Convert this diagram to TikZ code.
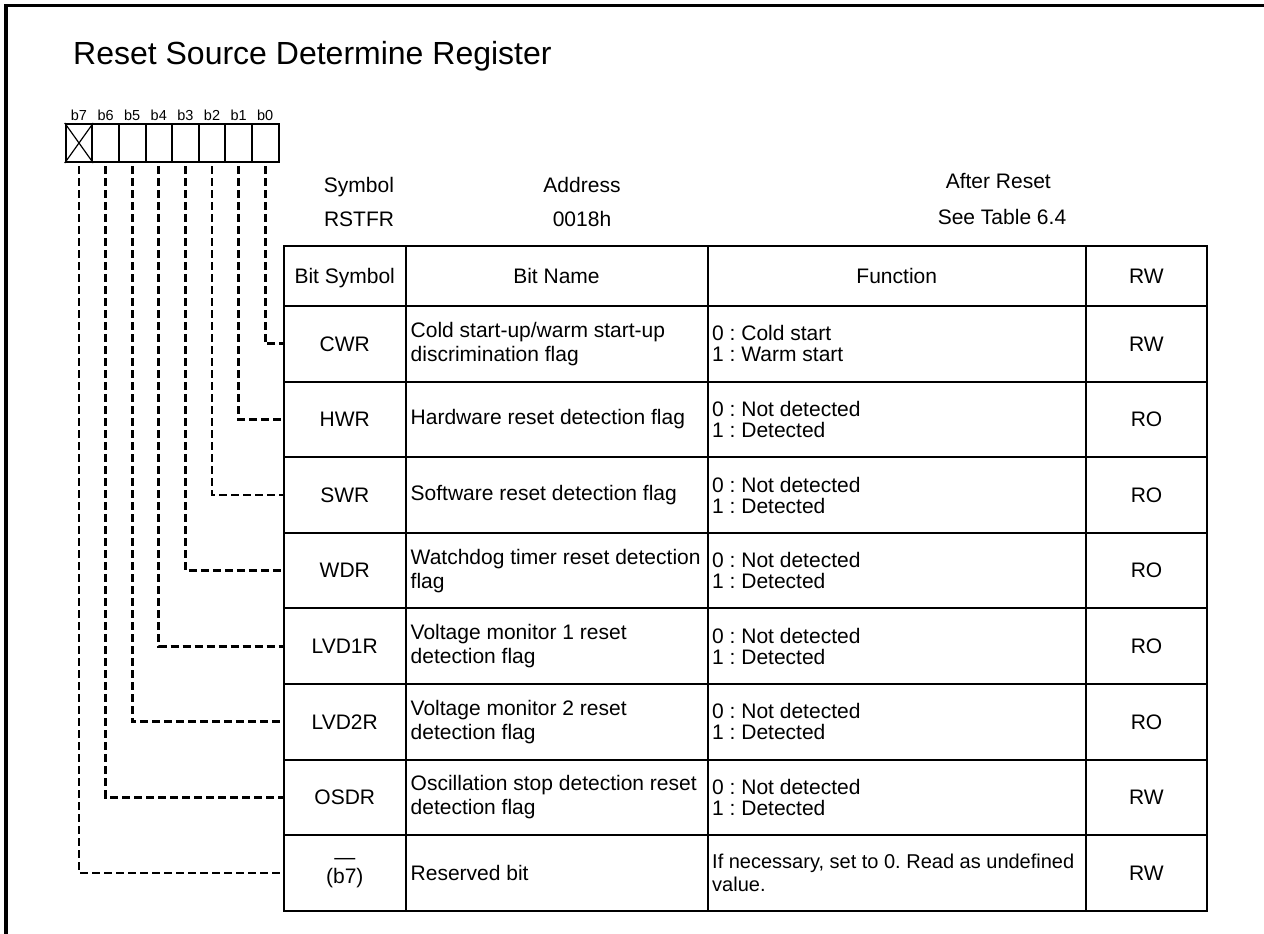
\documentclass[tikz,border=0pt]{standalone}
\usepackage{fontspec}
\setmainfont{Liberation Sans}
\frenchspacing
\newcommand\tblfont{\fontsize{21}{24}\selectfont}
\newcommand\fnfont{\fontsize{21}{21}\selectfont}
\newcommand\fnwfont{\fontsize{20}{22.4}\selectfont}
\newcommand\symfont{\fontsize{21}{19}\selectfont}
\begin{document}
\begin{tikzpicture}[x=1pt,y=-1pt,
  frame/.style={line width=3.2pt},
  reg/.style={draw, line width=2pt, minimum width=26.6pt, minimum height=38pt, inner sep=0pt},
  blabel/.style={font=\fontsize{14.5}{16}\selectfont, anchor=base, inner sep=0pt},
  hdr/.style={anchor=base, inner sep=0pt, font=\tblfont},
  cell/.style={draw, line width=2pt, inner sep=0pt, minimum height=75.6pt, font=\tblfont},
  colA/.style={cell, minimum width=121.5pt, align=center, font=\symfont},
  colB/.style={cell, minimum width=302pt},
  colC/.style={cell, minimum width=378.5pt},
  colD/.style={cell, minimum width=121pt},
  headcell/.style={minimum height=60.3pt, text depth=0pt, font=\tblfont},
  ltext/.style={anchor=west, align=left, inner sep=0pt, font=\tblfont},
  ftext/.style={anchor=west, align=left, inner sep=0pt, font=\fnfont},
  conn/.style={line width=2.8pt, dash pattern=on 8pt off 4pt, dash phase=9pt},
  cross/.style={line width=1.2pt}
]
\useasboundingbox (0,0) rectangle (1264,934);
% frame
\draw[frame] (6,934) -- (6,5.5) -- (1264,5.5);
% title
\node[anchor=base west, inner sep=0pt, font=\fontsize{32}{36}\selectfont] (title) at (73,64.5) {Reset Source Determine Register};

% register cells
\node[reg] (b7) at (79.0,143) {};
\node[reg] (b6) at (105.6,143) {};
\node[reg] (b5) at (132.2,143) {};
\node[reg] (b4) at (158.8,143) {};
\node[reg] (b3) at (185.4,143) {};
\node[reg] (b2) at (212.0,143) {};
\node[reg] (b1) at (238.6,143) {};
\node[reg] (b0) at (265.2,143) {};
\draw[cross] (b7.north west) -- (b7.south east) (b7.north east) -- (b7.south west);
\node[blabel] (l7) at (79.0,120.5) {b7};
\node[blabel] (l6) at (105.6,120.5) {b6};
\node[blabel] (l5) at (132.2,120.5) {b5};
\node[blabel] (l4) at (158.8,120.5) {b4};
\node[blabel] (l3) at (185.4,120.5) {b3};
\node[blabel] (l2) at (212.0,120.5) {b2};
\node[blabel] (l1) at (238.6,120.5) {b1};
\node[blabel] (l0) at (265.2,120.5) {b0};

% header info
\node[hdr] (symt) at (359,192.3) {Symbol};
\node[hdr] (symv) at (359,226.7) {RSTFR};
\node[hdr] (adrt) at (582,192.3) {Address};
\node[hdr] (adrv) at (582,226.7) {0018h};
\node[hdr] (rstt) at (998.3,188.3) {After Reset};
\node[hdr] (rstv) at (1002,224.3) {See Table 6.4};

% table header row
\node[colA, headcell] (hA) at (344.75,275.85) {Bit Symbol};
\node[colB, headcell] (hB) at (556.5,275.85) {Bit Name};
\node[colC, headcell] (hC) at (896.75,275.85) {Function};
\node[colD, headcell] (hD) at (1146.5,275.85) {RW};

% row 1
\node[colA] (s1) at (344.75,343.8) {CWR};
\node[colB] (n1) at (556.5,343.8) {};
\node[colC] (f1) at (896.75,343.8) {};
\node[colD] (r1) at (1146.5,343.8) {RW};
\node[ltext] (nt1) at ([xshift=6pt]n1.west) {Cold start-up/warm start-up\\discrimination flag};
\node[ftext] (ft1) at ([xshift=5.5pt]f1.west) {0 : Cold start\\1 : Warm start};

% row 2
\node[colA] (s2) at (344.75,419.4) {HWR};
\node[colB] (n2) at (556.5,419.4) {};
\node[colC] (f2) at (896.75,419.4) {};
\node[colD] (r2) at (1146.5,419.4) {RO};
\node[ltext] (nt2) at ([xshift=6pt]n2.west) {Hardware reset detection flag};
\node[ftext] (ft2) at ([xshift=5.5pt]f2.west) {0 : Not detected\\1 : Detected};

% row 3
\node[colA] (s3) at (344.75,495.0) {SWR};
\node[colB] (n3) at (556.5,495.0) {};
\node[colC] (f3) at (896.75,495.0) {};
\node[colD] (r3) at (1146.5,495.0) {RO};
\node[ltext] (nt3) at ([xshift=6pt]n3.west) {Software reset detection flag};
\node[ftext] (ft3) at ([xshift=5.5pt]f3.west) {0 : Not detected\\1 : Detected};

% row 4
\node[colA] (s4) at (344.75,570.6) {WDR};
\node[colB] (n4) at (556.5,570.6) {};
\node[colC] (f4) at (896.75,570.6) {};
\node[colD] (r4) at (1146.5,570.6) {RO};
\node[ltext] (nt4) at ([xshift=6pt]n4.west) {Watchdog timer reset detection\\flag};
\node[ftext] (ft4) at ([xshift=5.5pt]f4.west) {0 : Not detected\\1 : Detected};

% row 5
\node[colA] (s5) at (344.75,646.2) {LVD1R};
\node[colB] (n5) at (556.5,646.2) {};
\node[colC] (f5) at (896.75,646.2) {};
\node[colD] (r5) at (1146.5,646.2) {RO};
\node[ltext] (nt5) at ([xshift=6pt]n5.west) {Voltage monitor 1 reset\\detection flag};
\node[ftext] (ft5) at ([xshift=5.5pt]f5.west) {0 : Not detected\\1 : Detected};

% row 6
\node[colA] (s6) at (344.75,721.8) {LVD2R};
\node[colB] (n6) at (556.5,721.8) {};
\node[colC] (f6) at (896.75,721.8) {};
\node[colD] (r6) at (1146.5,721.8) {RO};
\node[ltext] (nt6) at ([xshift=6pt]n6.west) {Voltage monitor 2 reset\\detection flag};
\node[ftext] (ft6) at ([xshift=5.5pt]f6.west) {0 : Not detected\\1 : Detected};

% row 7
\node[colA] (s7) at (344.75,797.4) {OSDR};
\node[colB] (n7) at (556.5,797.4) {};
\node[colC] (f7) at (896.75,797.4) {};
\node[colD] (r7) at (1146.5,797.4) {RW};
\node[ltext] (nt7) at ([xshift=6pt]n7.west) {Oscillation stop detection reset\\detection flag};
\node[ftext] (ft7) at ([xshift=5.5pt]f7.west) {0 : Not detected\\1 : Detected};

% row 8
\node[colA] (s8) at (344.75,873.0) {—\\(b7)};
\node[colB] (n8) at (556.5,873.0) {};
\node[colC] (f8) at (896.75,873.0) {};
\node[colD] (r8) at (1146.5,873.0) {RW};
\node[ltext] (nt8) at ([xshift=6pt]n8.west) {Reserved bit};
\node[ftext, font=\fnwfont] (ft8) at ([xshift=5.5pt]f8.west) {If necessary, set to 0. Read as undefined\\value.};

% connectors
\draw[conn] (b0.south) |- (s1.west);
\draw[conn] (b1.south) |- (s2.west);
\draw[conn] (b2.south) |- (s3.west);
\draw[conn] (b3.south) |- (s4.west);
\draw[conn] (b4.south) |- (s5.west);
\draw[conn] (b5.south) |- (s6.west);
\draw[conn] (b6.south) |- (s7.west);
\draw[conn] (b7.south) |- (s8.west);
\end{tikzpicture}
\end{document}
